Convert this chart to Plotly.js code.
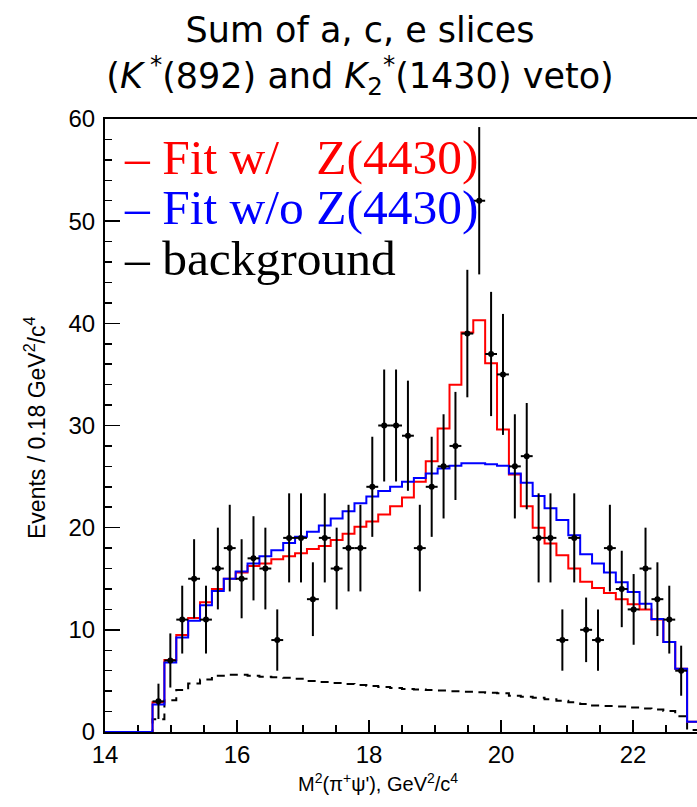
<!DOCTYPE html>
<html>
<head>
<meta charset="utf-8">
<script src="https://cdn.plot.ly/plotly-3.0.1.min.js"></script>
<style>
  html, body { margin: 0; padding: 0; background: #ffffff; }
  #chart { width: 697px; height: 807px; }
</style>
</head>
<body>
<div id="chart"></div>
<script>
// M^2(pi+ psi') spectrum: 50 bins of 0.18 GeV^2/c^4 from 14 to 23.
const binLow = 14.0;
const binWidth = 0.18;
const nBins = 50;

// Fit with the Z(4430) resonance, one value per bin
const fitWithZ = [
  0, 0, 0, 0,
  2.9, 7.05, 9.5, 11.15, 12.7, 14.0, 15.0, 15.6, 16.25, 16.5,
  16.9, 17.2, 17.5, 17.9, 18.2, 18.8, 19.4, 20.1, 20.6, 21.3,
  22.1, 22.95, 24.5, 26.5, 29.7, 34.0, 39.1, 40.3, 36.1, 29.6,
  25.2, 22.1, 20.0, 18.45, 17.3, 16.0, 14.7, 14.1, 13.6, 13.0,
  12.5, 12.0, 11.0, 8.8, 6.2, 1.0
];

// Fit without the Z(4430) resonance
const fitWithoutZ = [
  0, 0, 0, 0,
  2.7, 6.8, 9.25, 10.9, 12.4, 13.8, 15.0, 15.7, 16.5, 17.2,
  17.8, 18.5, 19.1, 19.6, 20.2, 20.9, 21.6, 22.4, 23.05, 23.6,
  24.0, 24.5, 24.85, 25.3, 25.8, 26.07, 26.3, 26.3, 26.2, 26.07,
  25.3, 24.4, 23.1, 21.9, 20.75, 19.25, 17.4, 16.5, 15.6, 14.65,
  13.7, 12.55, 11.05, 8.8, 6.2, 1.0
];

// Background component
const background = [
  0, 0, 0, 0,
  1.25, 3.1, 4.1, 4.75, 5.15, 5.5, 5.6, 5.6, 5.5, 5.4,
  5.35, 5.3, 5.2, 5.0, 4.9, 4.8, 4.7, 4.6, 4.5, 4.4,
  4.3, 4.2, 4.15, 4.1, 4.05, 4.0, 3.95, 3.9, 3.85, 3.8,
  3.55, 3.45, 3.35, 3.2, 3.05, 2.9, 2.75, 2.6, 2.55, 2.5,
  2.4, 2.3, 2.2, 2.05, 1.55, 0.2
];

// Measured events: bin centres, counts and statistical errors
const dataMass = [
  14.81, 14.99, 15.17, 15.35, 15.53, 15.71, 15.89, 16.07, 16.25, 16.43,
  16.61, 16.79, 16.97, 17.15, 17.33, 17.51, 17.69, 17.87, 18.05, 18.23,
  18.41, 18.59, 18.77, 18.95, 19.13, 19.31, 19.49, 19.67, 19.85, 20.03,
  20.21, 20.39, 20.57, 20.75, 20.93, 21.11, 21.29, 21.47, 21.65, 21.83,
  22.01, 22.19, 22.37, 22.55, 22.73
];
const dataEvents = [
  3, 7, 11, 15, 11, 16, 18, 15, 17, 16,
  9, 19, 19, 13, 19, 16, 18, 18, 24, 30,
  30, 29, 18, 24, 26, 28, 39, 52, 37, 35,
  26, 27, 19, 19, 9, 19, 10, 9, 18, 14,
  12, 16, 13, 11, 6
];
const dataErrors = [
  1.73, 2.65, 3.32, 3.87, 3.32, 4.0, 4.24, 3.87, 4.12, 4.0,
  3.0, 4.36, 4.36, 3.61, 4.36, 4.0, 4.24, 4.24, 4.9, 5.48,
  5.48, 5.39, 4.24, 4.9, 5.1, 5.29, 6.24, 7.21, 6.08, 5.92,
  5.1, 5.2, 4.36, 4.36, 3.0, 4.36, 3.16, 3.0, 4.24, 3.74,
  3.46, 4.0, 3.61, 3.32, 2.45
];

const xTickValues = [14, 16, 18, 20, 22];
const yTickValues = [0, 10, 20, 30, 40, 50, 60];

const legendEntries = [
  { text: '\u2013 Fit w/\u00A0\u00A0 Z(4430)', color: '#ff0000' },
  { text: '\u2013 Fit w/o Z(4430)', color: '#0000ff' },
  { text: '\u2013 background', color: '#000000' }
];

const titleText = 'Sum of a, c, e slices<br>' +
  '(<i>K</i>\u2009<sup>*</sup>(892) and <i>K</i><sub>2</sub><sup>*</sup>(1430) veto)';
const xTitle = "M<sup>2</sup>(\u03C0<sup>+</sup>\u03C8'), GeV<sup>2</sup>/c<sup>4</sup>";
const yTitle = 'Events / 0.18 GeV<sup>2</sup>/c<sup>4</sup>';

// Histogram bin edges, and a step outline that closes the last bin
const binEdges = Array.from({ length: nBins + 1 }, (_, i) => +(binLow + binWidth * i).toFixed(2));
const closeSteps = v => v.concat([v[v.length - 1]]);

const stepTrace = (vals, color, dash) => ({
  type: 'scatter',
  mode: 'lines',
  x: binEdges,
  y: closeSteps(vals),
  line: { color: color, width: 2, shape: 'hv', dash: dash || 'solid' },
  hoverinfo: 'skip'
});

const traces = [
  stepTrace(background, '#000000', '8px,6px'),
  stepTrace(fitWithZ, '#ff0000'),
  stepTrace(fitWithoutZ, '#0000ff'),
  {
    type: 'scatter',
    mode: 'markers',
    x: dataMass,
    y: dataEvents,
    marker: { color: '#000000', size: 6 },
    error_y: { type: 'data', array: dataErrors, visible: true, color: '#000000', thickness: 2, width: 0 },
    error_x: { type: 'constant', value: binWidth / 2, visible: true, color: '#000000', thickness: 2, width: 0 }
  }
];

const L = 105, R = 0, T = 119, B = 75, W = 697, H = 807;
const px2x = p => (p - L) / (W - L - R);
const px2y = p => 1 - (p - T) / (H - T - B);

const annotations = [
  { text: xTitle, x: px2x(378), y: px2y(782), font: { family: 'Liberation Sans, Arial, sans-serif', size: 20, color: '#000' } },
  { text: yTitle, x: px2x(35), y: px2y(428), textangle: -90, font: { family: 'Liberation Sans, Arial, sans-serif', size: 23, color: '#000' } }
].map(a => Object.assign({ xref: 'paper', yref: 'paper', xanchor: 'center', yanchor: 'middle', showarrow: false }, a));

legendEntries.forEach((e, i) => {
  annotations.push({
    text: e.text, xref: 'paper', yref: 'paper', x: px2x(122), y: px2y(157 + 50.5 * i),
    xanchor: 'left', yanchor: 'middle', showarrow: false,
    font: { family: 'Liberation Serif, Times New Roman, serif', size: 49.5, color: e.color }
  });
});

const axisCommon = {
  showgrid: false, zeroline: false,
  showline: true, linecolor: '#000', linewidth: 2,
  ticks: 'inside', tickcolor: '#000', tickwidth: 1.5,
  tickfont: { family: 'Liberation Sans, Arial, sans-serif', size: 24, color: '#000' },
  layer: 'below traces',
  fixedrange: true
};

const layout = {
  width: W, height: H,
  margin: { l: L, r: R, t: T, b: B, pad: 0 },
  paper_bgcolor: '#ffffff', plot_bgcolor: '#ffffff',
  showlegend: false,
  title: {
    text: titleText,
    font: { family: 'DejaVu Sans, sans-serif', size: 35, color: '#000' },
    xref: 'container', yref: 'container',
    x: 360 / W, xanchor: 'center',
    y: 1 - 42 / H, yanchor: 'top'
  },
  xaxis: Object.assign({}, axisCommon, {
    range: [14, 22.97], tickmode: 'array', tickvals: xTickValues, ticktext: xTickValues.map(String),
    ticklen: 12, mirror: true,
    minor: { dtick: 0.5, tick0: 14, ticks: 'inside', ticklen: 7, tickcolor: '#000', tickwidth: 1.5 }
  }),
  yaxis: Object.assign({}, axisCommon, {
    range: [0, 60], tickmode: 'array', tickvals: yTickValues, ticktext: yTickValues.map(String),
    ticklen: 15, mirror: false, ticklabelstandoff: 3,
    minor: { dtick: 2, tick0: 0, ticks: 'inside', ticklen: 7, tickcolor: '#000', tickwidth: 1.5 }
  }),
  annotations: annotations
};

Plotly.newPlot('chart', traces, layout, { staticPlot: true, displayModeBar: false });
</script>
</body>
</html>
